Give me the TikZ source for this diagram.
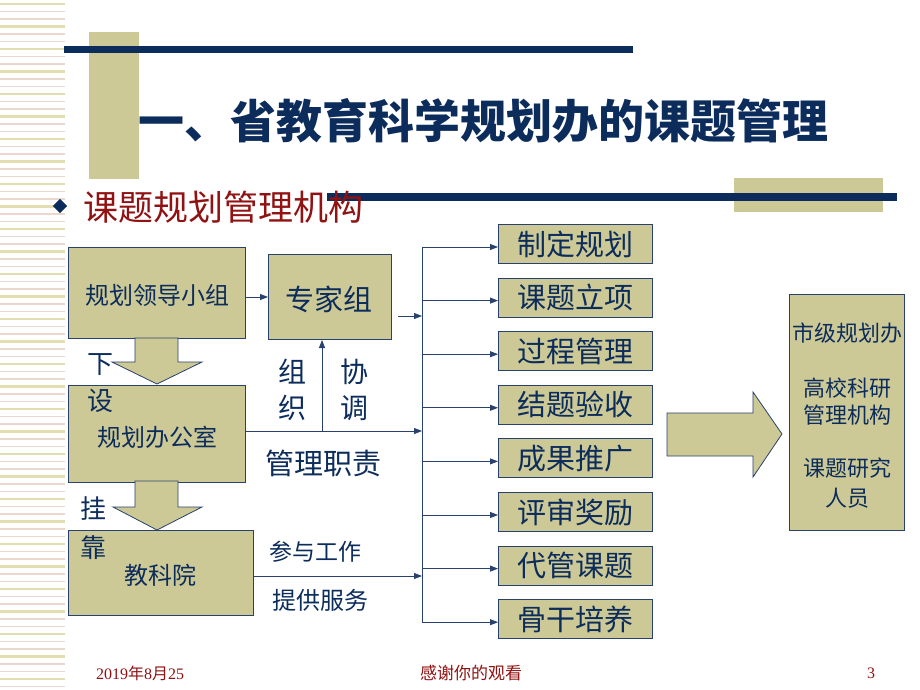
\documentclass[tikz,border=0pt]{standalone}
\usepackage{fontspec}
\setmainfont{Liberation Serif}
\newfontfamily\cjk{Noto Sans CJK SC}
\usetikzlibrary{arrows.meta}
\definecolor{navy}{RGB}{12,44,92}
\definecolor{tanf}{RGB}{204,201,150}
\definecolor{bord}{RGB}{40,65,110}
\definecolor{dred}{RGB}{145,18,18}
\definecolor{stripeA}{RGB}{226,222,178}
\definecolor{stripeB}{RGB}{234,216,206}
\tikzset{
  box/.style={draw=bord, line width=1pt, fill=tanf, inner sep=0pt, text=navy, anchor=north west},
  conn/.style={draw=bord, line width=0.8pt, -{Triangle[length=8pt,width=6pt]}},
  plain/.style={draw=bord, line width=0.8pt},
  blk/.style={draw=bord, line width=0.8pt, fill=tanf},
  lbl/.style={text=navy, inner sep=0pt},
  fs/.style={font=\cjk\fontsize{#1}{#1}\selectfont},
}
\begin{document}
\begin{tikzpicture}[x=1pt,y=-1pt]
\useasboundingbox (0,0) rectangle (920,690);
\fill[white] (0,0) rectangle (920,690);
% left stripes
\foreach \i in {0,...,91}{
  \pgfmathsetmacro{\yy}{\i*7.5+4}
  \pgfmathparse{mod(\i,3)==0 ? 1 : 0}
  \ifnum\pgfmathresult=1
    \draw[stripeA, line width=2.4pt] (0,\yy) -- (65,\yy);
  \else
    \draw[stripeB, line width=1.2pt] (0,\yy) -- (65,\yy);
  \fi
}
% header decorations
\fill[tanf] (89,32) rectangle (139,179);
\fill[navy] (64,46) rectangle (633,53);
\fill[tanf] (734,178) rectangle (883,212);
\fill[navy] (327,193) rectangle (897,201);
% title
\node[lbl, fs=46, anchor=west] (title) at (138,121) {\bfseries 一、省教育科学规划办的课题管理};
% bullet and subtitle
\node[fill=navy, draw=none, minimum size=10pt, inner sep=0pt, rotate=45] (bul) at (60,206) {};
\node[text=dred, inner sep=0pt, fs=35, anchor=west] (sub) at (83,207) {课题规划管理机构};
% left column boxes
\node[box, minimum width=177pt, minimum height=91pt] (lead) at (68,247) {};
\node[lbl, fs=24] (leadt) at (157,295) {规划领导小组};
\node[box, minimum width=123pt, minimum height=85pt] (expert) at (268,254) {};
\node[lbl, fs=29] (expertt) at (329,299) {专家组};
\node[box, minimum width=177pt, minimum height=97pt] (office) at (68,385) {};
\node[lbl, fs=24] (officet) at (157,437) {规划办公室};
\node[box, minimum width=185pt, minimum height=85pt] (yky) at (68,530) {};
\node[lbl, fs=24] (ykyt) at (160,575) {教科院};
% block arrows down
\draw[blk] (135,338) -- (178,338) -- (178,362) -- (202,362) -- (157,384) -- (112,362) -- (135,362) -- cycle;
\draw[blk] (135,481) -- (178,481) -- (178,507) -- (202,507) -- (157,530) -- (113,507) -- (135,507) -- cycle;
% side labels
\node[lbl, fs=26] (xia) at (100,365) {下};
\node[lbl, fs=26] (she) at (100,401) {设};
\node[lbl, fs=26] (gua) at (93,509) {挂};
\node[lbl, fs=26] (kao) at (93,548) {靠};
\node[lbl, fs=28] (zu) at (292,372) {组};
\node[lbl, fs=28] (zhi) at (292,408) {织};
\node[lbl, fs=28] (xie) at (354,372) {协};
\node[lbl, fs=28] (tiao) at (354,408) {调};
\node[lbl, fs=29] (glzz) at (323,463) {管理职责};
\node[lbl, fs=23] (cygz) at (315,552) {参与工作};
\node[lbl, fs=24] (tgfw) at (320,600) {提供服务};
% bus coordinates
\coordinate (bt) at (422,247);
\coordinate (bb) at (422,622);
\coordinate (j1) at (422,316);
\coordinate (j2) at (422,431);
\coordinate (j3) at (422,576);
\coordinate (v0) at (322,431);
\coordinate (s1) at (398,316);
% right list boxes
\foreach \t/\n [count=\k from 0] in {制定规划/r1,课题立项/r2,过程管理/r3,结题验收/r4,成果推广/r5,评审奖励/r6,代管课题/r7,骨干培养/r8}{
  \pgfmathsetmacro{\ty}{224+\k*53.6}
  \node[box, minimum width=154pt, minimum height=39pt, fs=29] (\n) at (498,\ty) {\t};
  \path ([yshift=-3pt]\n.west) coordinate (a\n);
  \draw[conn] (bt |- a\n) -- (a\n);
}
% connectors
\draw[conn] (lead.east |- expert.west) -- (expert.west);
\draw[conn] (s1) -- (j1);
\draw[conn] (office.east |- j2) -- (j2);
\draw[conn] (v0) -- (v0 |- expert.south);
\draw[conn] (yky.east |- j3) -- (j3);
\draw[plain] (bt) -- (bb);
% big block arrow
\draw[blk] (667,413) -- (753,413) -- (753,392) -- (782,434) -- (753,477) -- (753,456) -- (667,456) -- cycle;
% right box
\node[box, minimum width=115pt, minimum height=236pt] (city) at (789,294) {};
\node[lbl, fs=22] (c1) at (847,333) {市级规划办};
\node[lbl, fs=22] (c2) at (847,388) {高校科研};
\node[lbl, fs=22] (c3) at (847,415) {管理机构};
\node[lbl, fs=22] (c4) at (847,468) {课题研究};
\node[lbl, fs=22] (c5) at (847,498) {人员};
% footer
\node[text=dred, inner sep=0pt, font=\fontsize{16}{16}\selectfont] (date) at (140,673) {2019{\cjk 年}8{\cjk 月}25};
\node[text=dred, inner sep=0pt, fs=17] (thanks) at (471,673) {感谢你的观看};
\node[text=dred, inner sep=0pt, font=\fontsize{16}{16}\selectfont] (page) at (871,673) {3};
\end{tikzpicture}
\end{document}
